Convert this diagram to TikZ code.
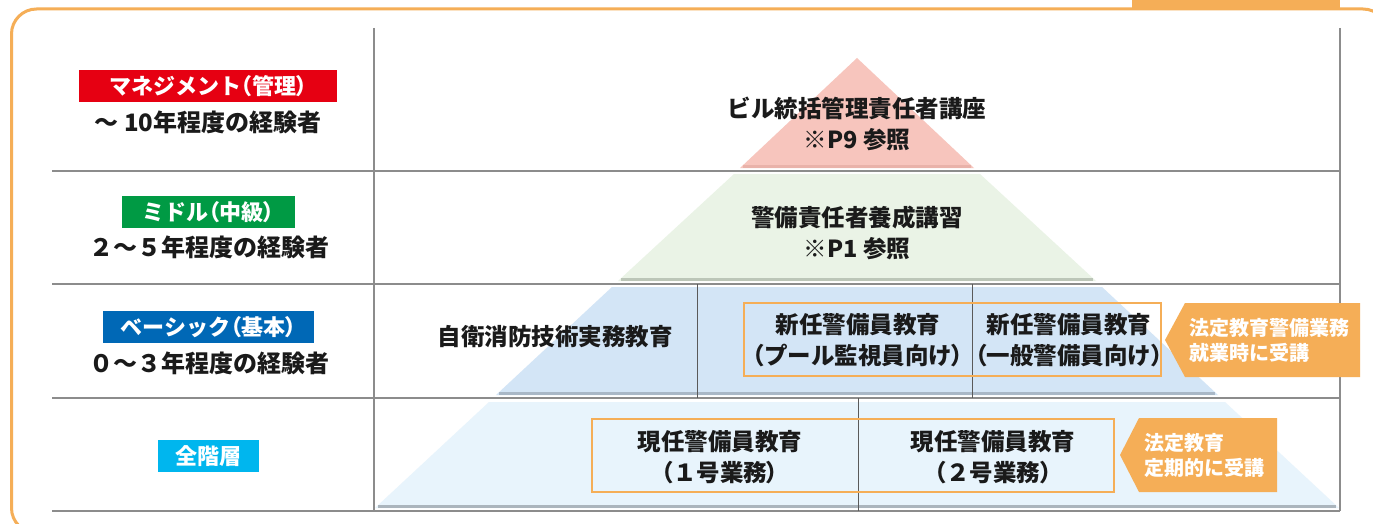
\documentclass[tikz,border=0pt]{standalone}
\usepackage{fontspec}
\setmainfont{Noto Sans CJK JP}
\newfontfamily\paltfont{Noto Sans CJK JP}[RawFeature=+palt]
\newcommand{\lpar}{{\paltfont （}}
\newcommand{\rpar}{{\paltfont ）}}
\usetikzlibrary{positioning}
\definecolor{frameorange}{HTML}{F5AE57}
\definecolor{tagred}{HTML}{E60012}
\definecolor{taggreen}{HTML}{009A44}
\definecolor{tagblue}{HTML}{0068B6}
\definecolor{tagcyan}{HTML}{00B6EE}
\definecolor{pinkband}{HTML}{F7C5BD}
\definecolor{pinkshadow}{HTML}{E9B2A9}
\definecolor{greenband}{HTML}{EAF3E6}
\definecolor{greenshadow}{HTML}{BCC6B8}
\definecolor{blueband}{HTML}{D3E5F6}
\definecolor{blueshadow}{HTML}{A9B8C7}
\definecolor{lightband}{HTML}{E8F4FC}
\definecolor{lightshadow}{HTML}{ABB5BD}
\definecolor{tablegrey}{HTML}{8C8C8C}
\definecolor{dividergrey}{HTML}{5A5A5A}
\definecolor{textblack}{HTML}{1A1A1A}
\tikzset{
  tag/.style={text=white, inner sep=0pt, minimum height=32pt, font=\fontsize{22}{26}\selectfont\bfseries},
  years/.style={text=textblack, inner sep=0pt, font=\fontsize{24}{28}\selectfont\bfseries},
  course/.style={text=textblack, align=center, inner sep=0pt, font=\fontsize{23.5}{31}\selectfont\bfseries},
  note/.style={text=white, align=left, anchor=west, inner sep=0pt, font=\fontsize{20}{25}\selectfont\bfseries},
  table line/.style={draw=tablegrey, line width=1.5pt},
  cell line/.style={draw=dividergrey, line width=1pt},
  orange box/.style={draw=frameorange, line width=2.5pt},
  shadow line/.style={line width=3pt}
}
\begin{document}
\begin{tikzpicture}[x=1pt, y=-1pt]
\useasboundingbox (0,0) rectangle (1373,524);
\fill[white] (0,0) rectangle (1373,524);

\fill[frameorange] (1132,-5) rectangle (1340,9);
\draw[frameorange, line width=3pt, rounded corners=25pt] (11.5,9) rectangle (1388,533);

\fill[pinkband] (857,58) -- (974,168) -- (740,168) -- cycle;
\draw[pinkshadow, shadow line] (743,166.5) -- (971,166.5);
\fill[greenband] (734,174) -- (980,174) -- (1096,281) -- (618,281) -- cycle;
\draw[greenshadow, shadow line] (621,279.5) -- (1093,279.5);
\fill[blueband] (612,287) -- (1102,287) -- (1218,395) -- (496,395) -- cycle;
\draw[blueshadow, shadow line] (499,393.5) -- (1215,393.5);
\fill[lightband] (489,402) -- (1225,402) -- (1339,508) -- (375,508) -- cycle;
\draw[lightshadow, shadow line] (378,506.5) -- (1336,506.5);

\path[table line] (374,28) -- (374,511);
\path[table line] (1340,28) -- (1340,511);
\path[table line] (52,171) -- (1340,171);
\path[table line] (52,284) -- (1340,284);
\path[table line] (52,398) -- (1340,398);
\path[table line] (52,511) -- (1340,511);

\path[cell line] (697,284) -- (697,398);
\path[cell line] (972,284) -- (972,398);
\path[cell line] (858,398) -- (858,511);

\path[orange box] (744,303) rectangle (1161,376);
\path[orange box] (592,419) rectangle (1114,492);

\node[tag, fill=tagred, minimum width=258pt] (mgmt) at (208,86) {マネジメント\lpar 管理\rpar};
\node[years] (mgmtyears) at (208,122) {～ 10年程度の経験者};
\node[tag, fill=taggreen, minimum width=173pt] (middle) at (208.5,212) {ミドル\lpar 中級\rpar};
\node[years] (middleyears) at (209,247) {２～５年程度の経験者};
\node[tag, fill=tagblue, minimum width=211pt] (basic) at (208.5,327) {ベーシック\lpar 基本\rpar};
\node[years] (basicyears) at (209,363) {０～３年程度の経験者};
\node[tag, fill=tagcyan, minimum width=101pt] (all) at (208.5,456) {全階層};

\node[course] (bldg) at (857,124) {ビル統括管理責任者講座\\※P9 参照};
\node[course] (chief) at (857,233) {警備責任者養成講習\\※P1 参照};
\node[course] (fire) at (555,337) {自衛消防技術実務教育};
\node[course] (newpool) at (858,340) {新任警備員教育\\\lpar プール監視員向け\rpar};
\node[course] (newgen) at (1069,340) {新任警備員教育\\\lpar 一般警備員向け\rpar};
\node[course] (cur1) at (720,457) {現任警備員教育\\\lpar １号業務\rpar};
\node[course] (cur2) at (993,457) {現任警備員教育\\\lpar ２号業務\rpar};

\fill[frameorange] (1165,340) -- (1185,303) -- (1360,303) -- (1360,377) -- (1185,377) -- cycle;
\node[note] (newnote) at (1189,340) {法定教育警備業務\\就業時に受講};
\fill[frameorange] (1120,455) -- (1139,418) -- (1277,418) -- (1277,492) -- (1139,492) -- cycle;
\node[note] (curnote) at (1144,455) {法定教育\\定期的に受講};
\end{tikzpicture}
\end{document}
